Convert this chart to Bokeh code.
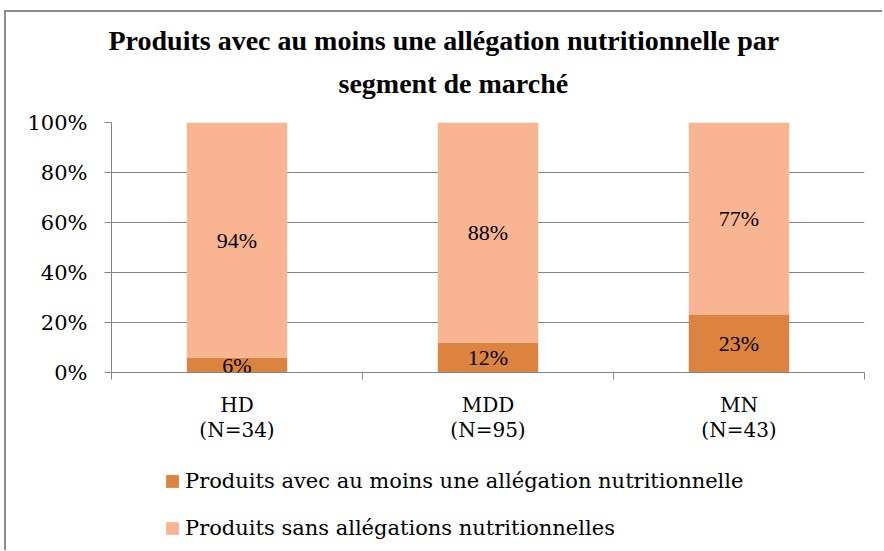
from bokeh.plotting import figure
from bokeh.layouts import column
from bokeh.models import (Range1d, FixedTicker, LinearAxis, Title,
                          ColumnDataSource, LabelSet, Legend, LegendItem)
from bokeh.embed import file_html
from bokeh.resources import INLINE

# ---- data ----
categories = ["HD", "MDD", "MN"]
sample_sizes = ["(N=34)", "(N=95)", "(N=43)"]
avec = [6, 12, 23]
sans = [94, 88, 77]
y_ticks = [0, 20, 40, 60, 80, 100]
series_names = ["Produits avec au moins une allégation nutritionnelle",
                "Produits sans allégations nutritionnelles"]
title_lines = ["Produits avec au moins une allégation nutritionnelle  par",
               "segment de marché"]

# ---- style ----
DARK = "#DC843F"
LIGHT = "#F9B592"
GRAY = "#868686"
FONT = "DejaVu Serif"
FS = "20px"
TFONT = "Liberation Serif"
TFS = "28px"

n = len(categories)
xpos = [i + 0.5 for i in range(n)]          # category centres on a 0..n axis
bounds = list(range(n + 1))                 # category boundaries

p = figure(width=876, height=442, output_backend="svg", toolbar_location=None,
           x_range=Range1d(0, n), y_range=Range1d(0, 100), x_axis_location=None,
           min_border_left=105, min_border_right=18, min_border_top=110, min_border_bottom=82)
p.outline_line_color = None
p.background_fill_color = "white"
p.border_fill_color = "white"

# y axis
ya = p.yaxis[0]
ya.ticker = FixedTicker(ticks=y_ticks)
ya.major_label_overrides = {t: f"{t}%" for t in y_ticks}
ya.axis_line_color = GRAY
ya.major_tick_line_color = GRAY
ya.major_tick_out = 7
ya.major_tick_in = 0
ya.minor_tick_line_color = None
ya.major_label_standoff = 17
ya.major_label_text_font = FONT
ya.major_label_text_font_size = "21px"
ya.major_label_text_color = "black"

p.xgrid.visible = False
p.ygrid.ticker = FixedTicker(ticks=y_ticks)
p.ygrid.grid_line_color = GRAY
p.ygrid.grid_line_width = 1

# separator tick axis (ticks between categories)
sep = LinearAxis(ticker=FixedTicker(ticks=bounds))
sep.axis_line_color = GRAY
sep.major_tick_line_color = GRAY
sep.major_tick_out = 7
sep.major_tick_in = 0
sep.minor_tick_line_color = None
sep.major_label_overrides = {b: "" for b in bounds}
sep.major_label_text_font_size = "1px"
sep.major_label_standoff = 0
p.add_layout(sep, "below")

# category label axis
cat = LinearAxis(ticker=FixedTicker(ticks=xpos))
cat.axis_line_color = None
cat.major_tick_line_color = None
cat.major_tick_out = 0
cat.major_tick_in = 0
cat.minor_tick_line_color = None
cat.major_label_standoff = 13
cat.major_label_text_font = FONT
cat.major_label_text_font_size = FS
cat.major_label_text_line_height = 1.07
cat.major_label_text_color = "black"
cat.major_label_overrides = {x: f"{c}\n{s}" for x, c, s in zip(xpos, categories, sample_sizes)}
p.add_layout(cat, "below")

# bars
src = ColumnDataSource(dict(
    x=xpos, avec=avec, sans=sans,
    total=[a + s for a, s in zip(avec, sans)],
    zero=[0] * n,
    mid_avec=[a / 2 for a in avec],
    mid_sans=[a + s / 2 for a, s in zip(avec, sans)],
    lab_avec=[f"{a}%" for a in avec],
    lab_sans=[f"{s}%" for s in sans],
))
p.vbar(x="x", bottom="zero", top="avec", width=0.4, source=src,
       fill_color=DARK, line_color=None)
p.vbar(x="x", bottom="avec", top="total", width=0.4, source=src,
       fill_color=LIGHT, line_color=None)

for ycol, tcol in (("mid_avec", "lab_avec"), ("mid_sans", "lab_sans")):
    p.add_layout(LabelSet(x="x", y=ycol, text=tcol, source=src,
                          text_align="center", text_baseline="middle",
                          text_font=FONT, text_font_size="22px", text_color="black"))

# title (two lines, second added first so it sits nearer the plot)
p.add_layout(Title(text=title_lines[1], align="left", offset=227, standoff=47,
                   text_font=TFONT, text_font_style="bold",
                   text_font_size=TFS, text_color="black"), "above")
p.add_layout(Title(text=title_lines[0], align="left", offset=-3, standoff=-26,
                   text_font=TFONT, text_font_style="bold",
                   text_font_size=TFS, text_color="black"), "above")

# legend panel (separate strip under the chart; frames are aligned with the chart)
lg = figure(width=876, height=96, output_backend="svg", toolbar_location=None,
            x_range=Range1d(0, n), y_range=Range1d(0, 100),
            x_axis_location=None, y_axis_location=None, min_border=0)
lg.outline_line_color = None
lg.grid.visible = False
lg.background_fill_color = "white"
lg.border_fill_color = "white"
# zero-height swatch renderers: they only feed the legend glyphs
k1 = lg.vbar(x="x", bottom="zero", top="zero", width=0.4, source=src,
             fill_color=DARK, line_color=None)
k2 = lg.vbar(x="x", bottom="zero", top="zero", width=0.4, source=src,
             fill_color=LIGHT, line_color=None)
legend = Legend(items=[LegendItem(label=series_names[0], renderers=[k1]),
                       LegendItem(label=series_names[1], renderers=[k2])],
                location=(53, 9), orientation="vertical",
                margin=0, padding=0, border_line_color=None, background_fill_alpha=0,
                glyph_width=16, glyph_height=16, label_standoff=5,
                label_height=26, spacing=21,
                label_text_font=FONT, label_text_font_size="21px", label_text_color="black")
lg.add_layout(legend)

page = column(p, lg, spacing=0)
page.styles = {"border-top": "2px solid #8c8c8c", "border-left": "2px solid #8c8c8c",
               "margin-left": "4px", "margin-top": "10px"}

open("out.html", "w").write(file_html(page, INLINE))
